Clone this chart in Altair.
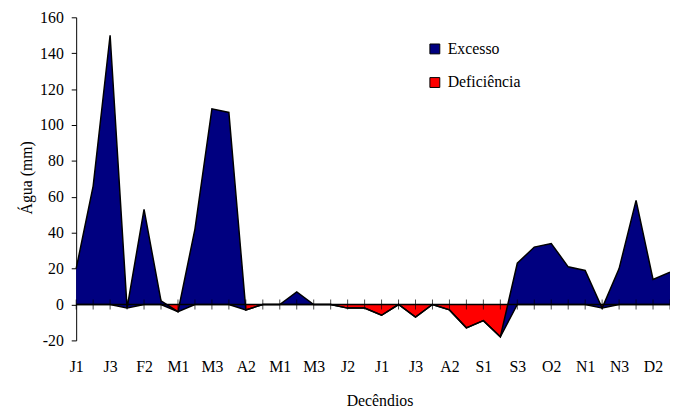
import json
import altair as alt
import pandas as pd

labels = ["J1", "J2", "J3", "F1", "F2", "F3", "M1", "M2", "M3", "A1", "A2", "A3",
          "M1", "M2", "M3", "J1", "J2", "J3", "J1", "J2", "J3", "A1", "A2", "A3",
          "S1", "S2", "S3", "O1", "O2", "O3", "N1", "N2", "N3", "D1", "D2", "D3"]
excesso = [20, 66, 150, 0, 53, 2, 0, 42, 109, 107, 0, 0,
           0, 7, 0, 0, 0, 0, 0, 0, 0, 0, 0, 0,
           0, 0, 23, 32, 34, 21, 19, 0, 20, 58, 14, 18]
deficiencia = [0, 0, 0, -2, 0, 0, -4, 0, 0, 0, -3, 0,
               0, 0, 0, 0, -2, -2, -6, 0, -7, 0, -3, -13,
               -9, -18, 0, 0, 0, 0, 0, -2, 0, 0, 0, 0]
y_ticks = [-20, 0, 20, 40, 60, 80, 100, 120, 140, 160]
series_names = ["Excesso", "Deficiência"]
series_colors = ["#000080", "#FF0000"]

df = pd.DataFrame({
    "idx": list(range(len(labels))),
    "label": labels,
    "exc": excesso,
    "def": deficiencia,
})
df["net"] = df["exc"] + df["def"]
df["zero"] = 0

FONT = "Liberation Serif"
W, H = 601, 327
YTITLE = "Água (mm)"
XTITLE = "Decêndios"

xscale = alt.Scale(domain=[0, len(labels) - 1], nice=False, zero=False)
xaxis = alt.Axis(
    values=list(range(0, len(labels), 2)),
    labelExpr=json.dumps(labels, ensure_ascii=False) + "[datum.value]",
    domain=False, ticks=False, tickSize=0, grid=False,
    labelPadding=18, labelFlush=False, labelOverlap=False,
    labelFont=FONT, labelFontSize=16, labelColor="black",
    titleFont=FONT, titleFontSize=16, titleFontWeight="normal", titleColor="black",
    titleX=307, titleY=66, titleBaseline="alphabetic", titleAnchor="middle",
)
yscale = alt.Scale(domain=[-20, 160], nice=False, zero=False)
yaxis = alt.Axis(
    values=y_ticks,
    labelExpr="toString(datum.value)",
    grid=False, domainColor="black", domainWidth=1,
    tickColor="black", tickSize=5, labelPadding=8,
    labelOverlap=False, labelFlush=False,
    labelFont=FONT, labelFontSize=16, labelColor="black",
    titleFont=FONT, titleFontSize=16, titleFontWeight="normal", titleColor="black",
    titleX=-45, titleY=162, titleBaseline="alphabetic", titleAlign="center",
)


def X():
    return alt.X("idx:Q", scale=xscale, axis=xaxis, title=XTITLE)


def Y(field):
    return alt.Y(field, type="quantitative", scale=yscale, axis=yaxis,
                 title=YTITLE, stack=False)


color = alt.Color(
    "series:N",
    scale=alt.Scale(domain=series_names, range=series_colors),
    legend=alt.Legend(
        title=None, orient="none", legendX=355, legendY=24,
        symbolType="square", symbolSize=100, symbolStrokeColor="black",
        symbolStrokeWidth=1, symbolOpacity=1,
        labelFont=FONT, labelFontSize=16, labelColor="black",
        labelOffset=5, rowPadding=18, padding=0, symbolOffset=0,
    ),
)

red = alt.Chart(df).transform_calculate(series="'Deficiência'").mark_area(
    opacity=1, strokeWidth=0
).encode(x=X(), y=Y("def"), y2=alt.Y2("zero"), color=color)

blue = alt.Chart(df).transform_calculate(series="'Excesso'").mark_area(
    opacity=1, strokeWidth=0
).encode(x=X(), y=Y("net"), y2=alt.Y2("def"), color=color)

line_net = alt.Chart(df).mark_line(color="black", strokeWidth=1.5).encode(
    x=X(), y=Y("net"))
line_def = alt.Chart(df).mark_line(color="black", strokeWidth=1.5).encode(
    x=X(), y=Y("def"))
line_zero = alt.Chart(df).mark_line(color="black", strokeWidth=1.5).encode(
    x=X(), y=Y("zero"))

ticks = alt.Chart(df).mark_tick(orient="vertical", size=10, thickness=1,
                                color="black").encode(x=X(), y=Y("zero"))

chart = alt.layer(red, blue, line_def, line_net, line_zero, ticks).properties(
    width=W, height=H,
    autosize=alt.AutoSizeParams(type="none"),
    padding={"left": 69, "top": 7, "right": 0, "bottom": 68},
    background="white",
).configure(font=FONT).configure_view(strokeWidth=0).configure_axis(
    titleFontSize=16, labelFontSize=16, titleFont=FONT, labelFont=FONT,
    titleFontWeight="normal",
)

chart.save("out.html", embed_options={"renderer": "svg", "actions": False})
